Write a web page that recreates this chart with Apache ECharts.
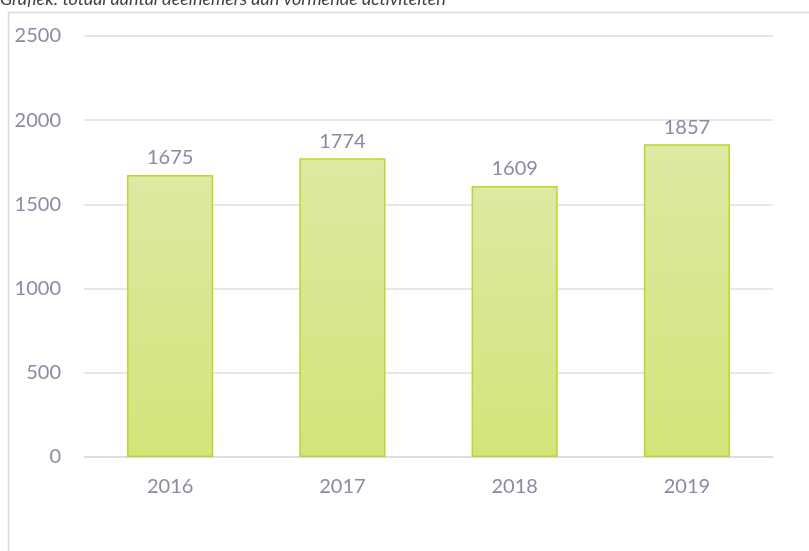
<!DOCTYPE html>
<html>
<head>
<meta charset="utf-8">
<script src="https://cdn.jsdelivr.net/npm/echarts@6/dist/echarts.min.js"></script>
<style>
  html, body { margin: 0; padding: 0; background: #fff; }
  #main { width: 809px; height: 551px; }
</style>
</head>
<body>
<div id="main"></div>
<script>
var years = ['2016', '2017', '2018', '2019'];
var deelnemers = [1675, 1774, 1609, 1857];
var yTicks = [0, 500, 1000, 1500, 2000, 2500];

var chart = echarts.init(document.getElementById('main'));
var textGrey = '#8a8aa4';

chart.setOption({
  animation: false,
  graphic: [
    { // kader rond de grafiek
      type: 'rect',
      shape: { x: 8.5, y: 12.5, width: 900, height: 700 },
      style: { fill: 'none', stroke: '#d9d9de', lineWidth: 1.5 },
      silent: true
    },
    { // titel, valt deels boven de rand
      type: 'text',
      left: 0,
      top: -10,
      style: {
        text: 'Grafiek: totaal aantal deelnemers aan vormende activiteiten',
        font: 'italic 18px Lato',
        fill: '#404040'
      }
    }
  ],
  grid: { left: 84, right: 36, top: 36, bottom: 94 },
  xAxis: {
    type: 'category',
    data: years,
    axisLine: { lineStyle: { color: '#d9d9e3', width: 1.5 } },
    axisTick: { show: false },
    axisLabel: { color: textGrey, fontFamily: 'Lato', fontSize: 20, margin: 20 }
  },
  yAxis: {
    type: 'value',
    min: yTicks[0],
    max: yTicks[yTicks.length - 1],
    interval: 500,
    axisLine: { show: false },
    axisTick: { show: false },
    splitLine: { lineStyle: { color: '#dcdce6', width: 1.5 } },
    axisLabel: {
      color: textGrey, fontFamily: 'Lato', fontSize: 20, margin: 23,
      formatter: function (v) { return String(v); }
    }
  },
  series: [{
    type: 'bar',
    data: deelnemers,
    barWidth: '50%',
    itemStyle: {
      color: new echarts.graphic.LinearGradient(0, 0, 0, 1, [
        { offset: 0, color: '#dee9a2' },
        { offset: 1, color: '#d4e47a' }
      ]),
      borderColor: '#bcd62e',
      borderWidth: 1.5
    },
    label: {
      show: true,
      position: 'top',
      distance: 7,
      color: textGrey,
      fontFamily: 'Lato',
      fontSize: 20
    }
  }]
});
</script>
</body>
</html>
